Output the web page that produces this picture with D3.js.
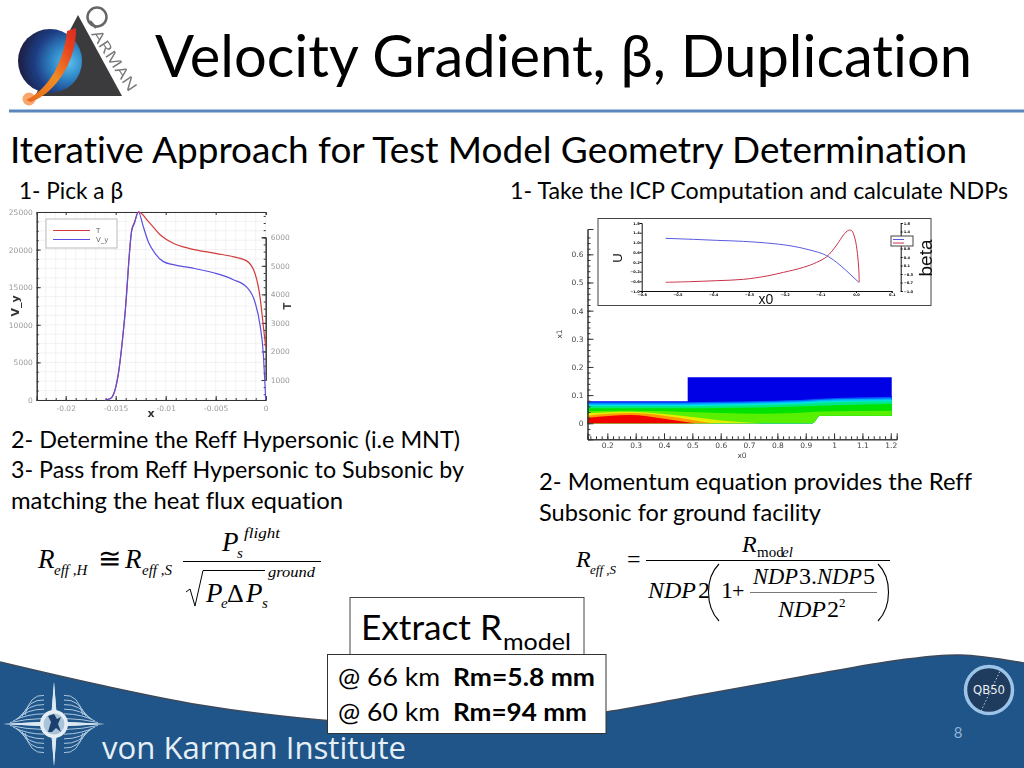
<!DOCTYPE html>
<html><head><meta charset="utf-8">
<script src="https://cdn.jsdelivr.net/npm/d3@7"></script>
<style>html,body{margin:0;padding:0;background:#fff}svg{display:block}text{font-variant-ligatures:none;font-feature-settings:"liga" 0,"clig" 0}</style>
</head><body><svg id="c" width="1024" height="768" xmlns="http://www.w3.org/2000/svg"></svg>
<script>
// ---------- left plot data ----------
const vyX = [-0.01607,-0.0155,-0.01473,-0.01407,-0.0134,-0.01313,-0.01273,-0.01223,-0.01173,-0.01107,-0.01023,-0.00923,-0.00757,-0.0049,-0.00323,-0.0019,-0.00107,-0.00057,-0.00023,-0.00007,0];
const vyV = [0,200,3500,11500,22500,23500,25000,23000,21000,19500,18400,18000,17600,16800,16000,15000,13000,10000,6000,2000,0];
const tX = [-0.01607,-0.0155,-0.01473,-0.01407,-0.0134,-0.01313,-0.01273,-0.0117,-0.0105,-0.0092,-0.0076,-0.0049,-0.0032,-0.0019,-0.00107,-0.00057,-0.00023,0];
const tV = [300,360,1233,3300,6250,6520,6888,6540,6072,5780,5605,5430,5314,5174,4731,3915,2865,2166];
const vyTicks = [0,5000,10000,15000,20000,25000];
const tTicks = [1000,2000,3000,4000,5000,6000];
const xTicksLeft = [-0.02,-0.015,-0.01,-0.005,0];
const legendNames = ["T","V_y"];
// ---------- inset plot data ----------
const uX = [-0.533,-0.455,-0.39,-0.315,-0.25,-0.185,-0.129,-0.082,-0.045,-0.017,0.008];
const uV = [1.168,1.127,1.086,1.044,0.976,0.866,0.688,0.455,0.07,-0.30,-0.643];
const betaX = [-0.533,-0.465,-0.39,-0.315,-0.25,-0.203,-0.147,-0.11,-0.082,-0.054,-0.035,-0.021,-0.012,-0.003,0.004,0.008,0.009];
const betaV = [-0.643,-0.616,-0.575,-0.52,-0.383,-0.232,-0.026,0.18,0.414,0.894,1.306,1.498,1.484,1.168,0.55,-0.135,-0.643];
const insetXTicks = [-0.6,-0.5,-0.4,-0.3,-0.2,-0.1,0,0.1];
const insetUTicks = [-1,-0.6,-0.2,0.2,0.6,1,1.4,1.8];
const insetBetaTicks = [-1,-0.65,-0.3,0.05,0.4,0.75,1.1,1.45,1.8];
// ---------- contour data ----------
const yTicksMain = [0,0.1,0.2,0.3,0.4,0.5,0.6];
const xTicksMain = [0.2,0.3,0.4,0.5,0.6,0.7,0.8,0.9,1,1.1,1.2];
const fieldX = [0.13,0.28,0.4835,0.6,0.75,0.9235,0.95,1.2035];
const fieldFloor = [0,0,0,0,0,0,0.027,0.027];
const fieldTop = [0.078,0.078,0.078,0.078,0.08,0.087,0.089,0.096];
const band1 = [0.075,0.075,0.075,0.076,0.079,0.085,0.087,0.093];
const band2 = [0.070,0.070,0.070,0.072,0.075,0.081,0.083,0.088];
const band3 = [0.065,0.065,0.065,0.067,0.070,0.076,0.078,0.083];
const band4 = [0.060,0.060,0.060,0.062,0.065,0.071,0.073,0.077];
const band5 = [0.053,0.053,0.053,0.054,0.056,0.061,0.062,0.068];
const band6 = [0.043,0.044,0.040,0.036,0.034,0.040,0.042,0.044];
const blockX = [0.4835,1.2035];
const blockTop = [0.163,0.163];
const blockFloor = [0.07,0.085];
const yellowX = [0.13,0.28,0.4,0.5,0.6,0.74];
const yellowY = [0.036,0.041,0.033,0.022,0.010,0];
const orangeX = [0.13,0.28,0.4,0.5,0.573];
const orangeY = [0.027,0.036,0.027,0.012,0];
const redX = [0.13,0.28,0.4,0.509];
const redY = [0.019,0.029,0.016,0];

const svg = d3.select("#c");
const defs = svg.append("defs");
defs.append("filter").attr("id","soft").attr("x","-5%").attr("y","-5%").attr("width","110%").attr("height","110%")
  .append("feGaussianBlur").attr("stdDeviation",0.45);
const gg = defs.append("radialGradient").attr("id","globe").attr("cx","0.78").attr("cy","0.52").attr("r","0.85");
[[0,"#5cc3ee"],[0.3,"#2f86c6"],[0.6,"#1f3f86"],[1,"#1a1530"]].forEach(s=>gg.append("stop").attr("offset",s[0]).attr("stop-color",s[1]));
const sw = defs.append("linearGradient").attr("id","swoosh").attr("x1","0").attr("y1","1").attr("x2","1").attr("y2","0");
[[0,"#e8641c"],[0.45,"#f28c22"],[0.8,"#e8401f"],[1,"#d82a20"]].forEach(s=>sw.append("stop").attr("offset",s[0]).attr("stop-color",s[1]));

const sans = "Lato, 'Open Sans', sans-serif";
const serif = "'Liberation Serif', serif";
const chartFont = "'DejaVu Sans', sans-serif";
function T(parent,str,x,y,size,opts={}){
  const t = parent.append("text").attr("x",x).attr("y",y).attr("font-size",size)
    .attr("font-family",opts.font||sans).attr("fill",opts.fill||"#000").text(str);
  if(opts.len) t.attr("textLength",opts.len).attr("lengthAdjust","spacingAndGlyphs");
  if(opts.weight) t.attr("font-weight",opts.weight);
  if(opts.style) t.attr("font-style",opts.style);
  if(opts.anchor) t.attr("text-anchor",opts.anchor);
  if(opts.rot!==undefined) t.attr("transform",`rotate(${opts.rot} ${x} ${y})`);
  return t;
}

// ---------- footer ----------
const footerEdge = [[0,662],[100,685],[200,705],[300,718],[420,726],[520,722],[606,712],[700,695],[800,677],[900,660],[960,655],[1024,663]];
const edge = d3.line().curve(d3.curveCatmullRom);
svg.append("path").attr("d",edge(footerEdge)+"L1024,768L0,768Z").attr("fill","#1f5589");
svg.append("path").attr("d",edge(footerEdge)).attr("fill","none").attr("stroke","#3c4a5c").attr("stroke-width",1.5);

// VKI emblem
const vk = svg.append("g").attr("transform","translate(54,724)").attr("filter","url(#soft)");
[[1,1],[1,-1],[-1,1],[-1,-1]].forEach(m=>{
  const q = vk.append("g").attr("transform",`scale(${m[0]},${m[1]})`);
  for(let k=1;k<=6;k++){
    q.append("path").attr("fill","none").attr("stroke","#bcd3e6").attr("stroke-width",0.9)
     .attr("d",`M${47-k*3},${k*1.5} Q${30-k},${k*5} 10,${k*4.6+1}`);
  }
  q.append("path").attr("d","M0,-2L3,5L0,42L-3,5Z").attr("fill","#dbe8f3");
  q.append("path").attr("d","M-2,0L5,-2.5L51,0L5,2.5Z").attr("fill","#dbe8f3");
});
vk.append("circle").attr("r",14).attr("fill","#e6eef5");
vk.append("circle").attr("r",10.5).attr("fill","#a9c3d8");
vk.append("path").attr("d","M-6,8L-3,-2L-6,-8L0,-10L3,-5L7,-7L4,0L7,8L2,4L-2,8Z").attr("fill","#1d3f6e");

T(svg,"von Karman Institute",102,759,31,{fill:"#e6eff6",font:"'Open Sans', sans-serif",len:304});

// QB50 badge
const qb = svg.append("g").attr("transform","translate(989,690)");
qb.append("circle").attr("r",23.5).attr("fill","#1f3c5e").attr("stroke","#9cc3e8").attr("stroke-width",3.5);
qb.append("line").attr("x1",-8).attr("y1",21).attr("x2",12).attr("y2",-21).attr("stroke","#b8cfe6").attr("stroke-width",1).attr("stroke-dasharray","1.5 2");
T(qb,"QB50",0,4,12,{fill:"#e8eef5",anchor:"middle",font:"'DejaVu Sans', sans-serif",len:32});
T(svg,"8",958,738,15,{fill:"#8fb2d4",anchor:"middle"});

// ---------- QARMAN logo ----------
const lg = svg.append("g").attr("filter","url(#soft)");
lg.append("path").attr("d","M78,15L122,96L35,96Z").attr("fill","#3b3b3d");
lg.append("circle").attr("cx",50).attr("cy",61).attr("r",32).attr("fill","url(#globe)");
lg.append("circle").attr("cx",29).attr("cy",99).attr("r",6.5).attr("fill","#f58a3c").attr("opacity",0.75);
lg.append("path").attr("d","M26,100C48,90 64,62 67,31L76,28C77,60 56,93 31,102Z").attr("fill","url(#swoosh)");
lg.append("circle").attr("cx",97).attr("cy",17).attr("r",9.5).attr("fill","none").attr("stroke","#666").attr("stroke-width",2.5);
lg.append("line").attr("x1",90).attr("y1",21).attr("x2",96).attr("y2",28).attr("stroke","#666").attr("stroke-width",2.5);
T(lg,"ARMAN",91,34,15,{fill:"#777",font:"'Open Sans', sans-serif",len:70,rot:57});

// ---------- header ----------
svg.append("rect").attr("x",9).attr("y",109.5).attr("width",1015).attr("height",3).attr("fill","#5b87bd");
T(svg,"Velocity Gradient, β, Duplication",155,77,58,{len:817});
T(svg,"Iterative Approach for Test Model Geometry Determination",10,163,37,{len:957});
T(svg,"1- Pick a β",19,199,23,{len:104});
T(svg,"1- Take the ICP Computation and calculate NDPs",510,199,23,{len:498});
T(svg,"2- Determine the Reff Hypersonic (i.e MNT)",11,448,23,{len:449});
T(svg,"3- Pass from Reff Hypersonic to Subsonic by",11,478,23,{len:453});
T(svg,"matching the heat flux equation",11,509,23,{len:332});
T(svg,"2- Momentum equation provides the Reff",539,490,23,{len:433});
T(svg,"Subsonic for ground facility",539,521,23,{len:282});

// ---------- left chart ----------
const L = svg.append("g").attr("filter","url(#soft)");
const lx = d3.scaleLinear().domain([-0.0229,0]).range([36.7,265.7]);
const ly = d3.scaleLinear().domain([0,25000]).range([400,212]);
const lt = d3.scaleLinear().domain([1000,6000]).range([380,237.3]);
const gridXs = d3.range(-0.022,0.0001,0.001);
const gridYs = d3.range(0,25001,1250);
L.selectAll(".gx").data(gridXs).join("line").attr("x1",d=>lx(d)).attr("x2",d=>lx(d)).attr("y1",212).attr("y2",400).attr("stroke","#ececec").attr("stroke-width",0.7);
L.selectAll(".gy").data(gridYs).join("line").attr("x1",36.7).attr("x2",265.7).attr("y1",d=>ly(d)).attr("y2",d=>ly(d)).attr("stroke","#ececec").attr("stroke-width",0.7);
function styleAxis(g,col,size){
  g.selectAll("text").attr("fill",col).attr("font-size",size).attr("font-family",chartFont);
  g.selectAll("line,path").attr("stroke","#333");
}
const lb = L.append("g").attr("transform","translate(0,400)").call(d3.axisBottom(lx).tickValues(xTicksLeft).tickFormat(d=>d===0?"0":String(d)).tickSize(-4).tickPadding(6));
styleAxis(lb,"#999",7.5);
const lb2 = L.append("g").attr("transform","translate(0,400)").call(d3.axisBottom(lx).tickValues(gridXs).tickFormat("").tickSize(-2));
lb2.selectAll("line,path").attr("stroke","#333");
const la = L.append("g").attr("transform","translate(36.7,0)").call(d3.axisLeft(ly).tickValues(vyTicks).tickFormat(d3.format("d")).tickSize(-4).tickPadding(4));
styleAxis(la,"#999",7.5);
const la2 = L.append("g").attr("transform","translate(36.7,0)").call(d3.axisLeft(ly).tickValues(gridYs).tickFormat("").tickSize(-2));
la2.selectAll("line,path").attr("stroke","#333");
const ltop = L.append("g").attr("transform","translate(0,212)").call(d3.axisTop(lx).tickValues(xTicksLeft).tickFormat("").tickSize(-3));
ltop.selectAll("line,path").attr("stroke","#333");
const lr = L.append("g").attr("transform","translate(265.7,0)").call(d3.axisRight(lt).tickValues(tTicks).tickFormat(d3.format("d")).tickSize(-4).tickPadding(5));
styleAxis(lr,"#999",7.5);
const lr2 = L.append("g").attr("transform","translate(265.7,0)").call(d3.axisRight(lt).tickValues(d3.range(500,6900,250)).tickFormat("").tickSize(-2));
lr2.selectAll("line,path").attr("stroke","#333");
const lineL = d3.line().curve(d3.curveMonotoneX);
L.append("path").attr("fill","none").attr("stroke","#d33b3b").attr("stroke-width",1.2)
  .attr("d",lineL(tX.map((x,i)=>[lx(x),lt(tV[i])])));
L.append("path").attr("fill","none").attr("stroke","#5a4fe0").attr("stroke-width",1.2)
  .attr("d",lineL(vyX.map((x,i)=>[lx(x),ly(vyV[i])])));
L.append("rect").attr("x",46).attr("y",219).attr("width",71).attr("height",29).attr("fill","#fff").attr("stroke","#bbb");
L.append("line").attr("x1",53).attr("x2",90).attr("y1",230.5).attr("y2",230.5).attr("stroke","#d33b3b").attr("stroke-width",1.2);
L.append("line").attr("x1",53).attr("x2",90).attr("y1",239.5).attr("y2",239.5).attr("stroke","#5a4fe0").attr("stroke-width",1.2);
T(L,legendNames[0],96,233,7,{font:chartFont,fill:"#666"});
T(L,legendNames[1],96,242,7,{font:chartFont,fill:"#666"});
T(L,"x",151,417,11,{font:chartFont,weight:"bold",fill:"#333",anchor:"middle"});
T(L,"V_y",19,306,11,{font:chartFont,weight:"bold",fill:"#333",anchor:"middle",rot:-90});
T(L,"T",291,306,10,{font:chartFont,weight:"bold",fill:"#444",anchor:"middle",rot:-90});

// ---------- right chart ----------
const R = svg.append("g").attr("filter","url(#soft)");
const rx = d3.scaleLinear().domain([0.13,1.221]).range([587.5,896.7]);
const ry = d3.scaleLinear().domain([-0.057,0.69]).range([439.3,229]);
const area = d3.area().curve(d3.curveMonotoneX).x(d=>rx(d[0])).y0(d=>ry(d[1])).y1(d=>ry(d[2]));
const zip = (xs,tops,floorAt)=>xs.map((x,i)=>[x,floorAt?floorAt[i]:0,tops[i]]);
const field = R.append("g").attr("filter","url(#soft)");
field.append("path").attr("fill","#0000e6").attr("d",area.curve(d3.curveLinear)(zip(blockX,blockTop,blockFloor)));
area.curve(d3.curveMonotoneX);
[[fieldTop,"#0000e6"],[band1,"#0060ff"],[band2,"#00b4ff"],[band3,"#00e6d8"],[band4,"#00e884"],[band5,"#00e200"],[band6,"#58f000"]]
  .forEach(b=>field.append("path").attr("fill",b[1]).attr("d",area(zip(fieldX,b[0],fieldFloor))));
field.append("path").attr("fill","#e6ee00").attr("d",area(zip(yellowX,yellowY)));
field.append("path").attr("fill","#ff9a00").attr("d",area(zip(orangeX,orangeY)));
field.append("path").attr("fill","#f20000").attr("d",area(zip(redX,redY)));
const ra = R.append("g").attr("transform","translate(587.5,0)").call(d3.axisLeft(ry).tickValues(yTicksMain).tickFormat(d=>d===0?"0":d3.format(".1f")(d)).tickSize(-6).tickPadding(4));
styleAxis(ra,"#444",7.5);
const ra2 = R.append("g").attr("transform","translate(587.5,0)").call(d3.axisLeft(ry).tickValues(d3.range(-0.04,0.68,0.02)).tickFormat("").tickSize(-3));
ra2.selectAll("line,path").attr("stroke","#333");
const rb = R.append("g").attr("transform","translate(0,439.3)").call(d3.axisBottom(rx).tickValues(xTicksMain).tickFormat(d=>d3.format(".1~f")(d)).tickSize(-6).tickPadding(3));
styleAxis(rb,"#444",7.5);
const rb2 = R.append("g").attr("transform","translate(0,439.3)").call(d3.axisBottom(rx).tickValues(d3.range(0.14,1.22,0.02)).tickFormat("").tickSize(-3));
rb2.selectAll("line,path").attr("stroke","#333");
T(R,"x0",742,458,7.5,{font:chartFont,fill:"#444",anchor:"middle"});
T(R,"x1",562,334,7.5,{font:chartFont,fill:"#444",anchor:"middle",rot:-90});

// inset
R.append("rect").attr("x",598).attr("y",218.5).attr("width",333).attr("height",87).attr("fill","#fff").attr("stroke","#444").attr("stroke-width",1);
const ix = d3.scaleLinear().domain([-0.6,0.1]).range([641.7,891.7]);
const iu = d3.scaleLinear().domain([-1,1.8]).range([291,223]);
const ib = d3.scaleLinear().domain([-1,1.8]).range([291,223]);
function inkAxis(g){
  g.selectAll("text").attr("font-size",3.6).attr("font-weight","bold").attr("font-family",chartFont).attr("fill","#000");
  g.selectAll("line,path").attr("stroke","#111").attr("stroke-width",1);
}
inkAxis(R.append("g").attr("transform","translate(0,291)").call(d3.axisBottom(ix).tickValues(insetXTicks).tickFormat(d3.format(".1f")).tickSize(2).tickPadding(0)));
inkAxis(R.append("g").attr("transform","translate(641.7,0)").call(d3.axisLeft(iu).tickValues(insetUTicks).tickFormat(d3.format(".1f")).tickSize(2).tickPadding(0)));
inkAxis(R.append("g").attr("transform","translate(900.7,0)").call(d3.axisRight(ib).tickValues(insetBetaTicks).tickFormat(d3.format(".1f")).tickSize(2).tickPadding(1)));
const lineI = d3.line().curve(d3.curveMonotoneX);
R.append("path").attr("fill","none").attr("stroke","#5a5ae0").attr("stroke-width",1).attr("d",lineI(uX.map((x,i)=>[ix(x),iu(uV[i])])));
R.append("path").attr("fill","none").attr("stroke","#c8324a").attr("stroke-width",1).attr("d",d3.line().curve(d3.curveCatmullRom)(betaX.map((x,i)=>[ix(x),ib(betaV[i])])));
R.append("rect").attr("x",891).attr("y",236).attr("width",22).attr("height",10).attr("fill","#fff").attr("stroke","#444");
R.append("line").attr("x1",893).attr("x2",904).attr("y1",239.5).attr("y2",239.5).attr("stroke","#5a5ae0");
R.append("line").attr("x1",893).attr("x2",904).attr("y1",243).attr("y2",243).attr("stroke","#c8324a");
T(R,"x0",766,304,14,{font:"'Liberation Sans', sans-serif",fill:"#111",anchor:"middle"});
T(R,"U",622,258,13,{font:"'Liberation Sans', sans-serif",fill:"#111",anchor:"middle",rot:-90});
T(R,"beta",932,258,19,{font:"'Liberation Sans', sans-serif",fill:"#111",anchor:"middle",rot:-90});

// ---------- equation 1 ----------
const E = svg.append("g").attr("fill","#000");
const it = {font:serif,style:"italic"};
T(E,"R",38,568,27,it);
T(E,"eff ,H",54,575,15,it);
T(E,"≅",98,568,28,{font:serif});
T(E,"R",125,568,27,it);
T(E,"eff ,S",142,575,15,it);
E.append("line").attr("x1",183).attr("x2",321).attr("y1",561.5).attr("y2",561.5).attr("stroke","#000").attr("stroke-width",1);
T(E,"P",222,551,27,it);
T(E,"flight",244,538,15,{...it,len:36});
T(E,"s",237,558,15,it);
E.append("path").attr("fill","none").attr("stroke","#000").attr("stroke-width",1).attr("d","M186,592L190,589L195,606L203,570.5H265");
T(E,"P",206,602,27,it);
T(E,"e",221,608,15,it);
T(E,"Δ",227,602,26,{font:serif});
T(E,"P",246,602,27,it);
T(E,"s",262,608,15,it);
T(E,"ground",268,577,15,{...it,len:47});

// ---------- equation 2 ----------
T(E,"R",576,567,24,it);
T(E,"eff ,S",590,574,13,it);
T(E,"=",627,567,24,{font:serif});
E.append("line").attr("x1",646).attr("x2",890).attr("y1",560.5).attr("y2",560.5).attr("stroke","#000").attr("stroke-width",1);
T(E,"R",742,552,24,it);
T(E,"mod",757,557,15,{font:serif});
T(E,"el",782,557,15,it);
T(E,"NDP",648,598,24,it);
T(E,"2",698,598,24,{font:serif});
E.append("path").attr("fill","none").attr("stroke","#000").attr("stroke-width",1.1).attr("d","M719,564C705,578 705,606 719,621");
E.append("path").attr("fill","none").attr("stroke","#000").attr("stroke-width",1.1).attr("d","M878,564C892,578 892,606 878,621");
T(E,"1",721,598,24,{font:serif});
T(E,"+",732,598,22,{font:serif});
E.append("line").attr("x1",750).attr("x2",877).attr("y1",592.5).attr("y2",592.5).attr("stroke","#555").attr("stroke-width",0.8);
T(E,"NDP",753,584,24,{...it,len:45});
T(E,"3",799,584,24,{font:serif});
T(E,".",811,584,24,{font:serif});
T(E,"NDP",817,584,24,{...it,len:45});
T(E,"5",863,584,24,{font:serif});
T(E,"NDP",778,617,24,it);
T(E,"2",827,617,24,{font:serif});
T(E,"2",839,607,13,{font:serif});

// ---------- boxes ----------
svg.append("rect").attr("x",350).attr("y",597.5).attr("width",234).attr("height",60).attr("fill","#fff").attr("stroke","#444");
T(svg,"Extract R",361,640,35,{len:141});
T(svg,"model",503,650,24,{len:68});
svg.append("rect").attr("x",327.5).attr("y",654.5).attr("width",278.5).attr("height",79).attr("fill","#fff").attr("stroke","#333");
T(svg,"@ 66 km",338,686,25,{len:102});
T(svg,"Rm=5.8 mm",453,686,25,{weight:"bold",len:142});
T(svg,"@ 60 km",338,721,25,{len:102});
T(svg,"Rm=94 mm",453,721,25,{weight:"bold",len:134});
</script></body></html>
